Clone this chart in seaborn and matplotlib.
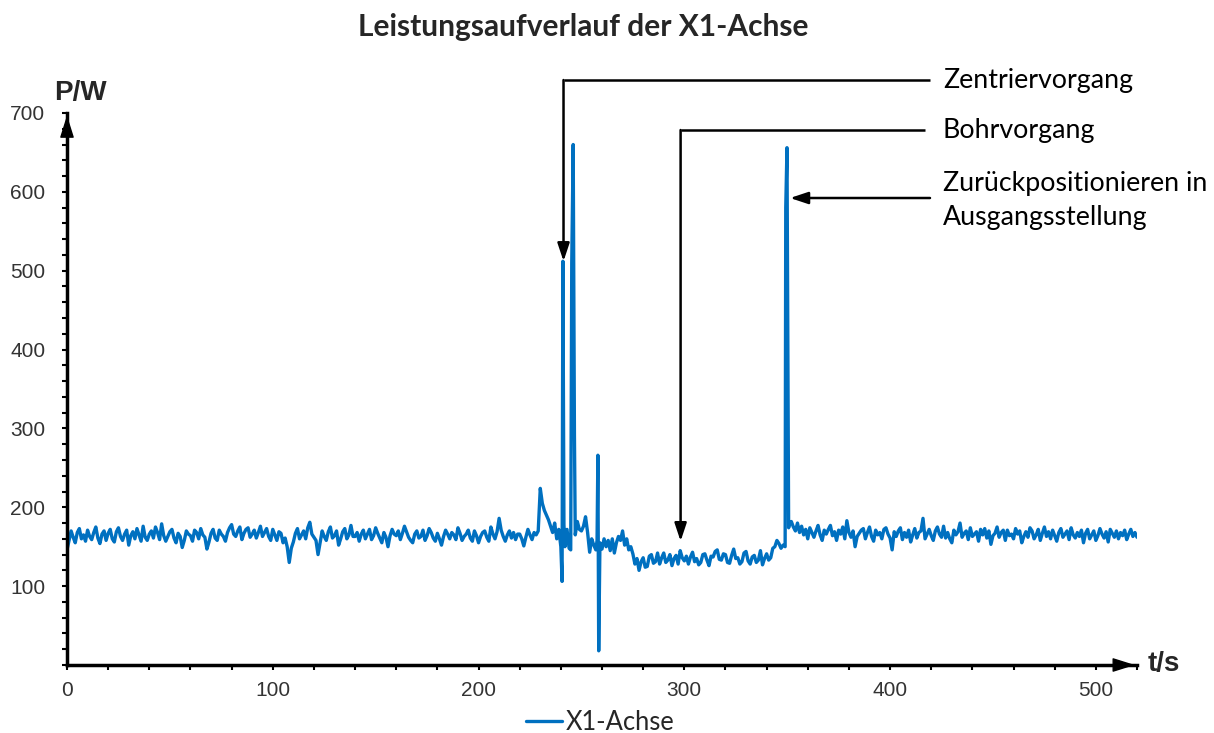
import numpy as np
import pandas as pd
import matplotlib
matplotlib.use("Agg")
import matplotlib.pyplot as plt
import seaborn as sns

# ---------------- data ----------------
title = "Leistungsaufverlauf der X1-Achse"
series_name = "X1-Achse"
x_label = "t/s"
y_label = "P/W"

# segment A: t = 0 .. 239 s (1 s step)
vals_a = [146, 158, 170, 162, 155, 168, 173, 160, 165, 157, 171, 163, 159, 168, 175, 161, 154, 166, 170, 158,
          167, 172, 160, 156, 169, 174, 163, 158, 166, 171, 152, 164, 169, 160, 173, 165, 157, 176, 162, 158,
          166, 170, 161, 175, 168, 159, 179, 164, 157, 163, 169, 172, 161, 155, 167, 163, 149, 158, 170, 166,
          164, 157, 171, 168, 160, 173, 165, 162, 147, 156, 167, 172, 161, 158, 171, 166, 163, 157, 168, 174,
          178, 166, 163, 170, 175, 159, 167, 172, 174, 162, 166, 171, 161, 168, 176, 163, 168, 173, 163, 158,
          172, 165, 158, 169, 167, 155, 161, 150, 130, 148, 156, 167, 173, 160, 165, 170, 160, 174, 181, 166,
          162, 158, 140, 155, 170, 163, 158, 169, 175, 161, 164, 170, 152, 160, 169, 173, 160, 165, 177, 163,
          163, 168, 157, 166, 171, 160, 166, 172, 159, 164, 174, 167, 161, 155, 168, 162, 150, 164, 172, 166,
          164, 170, 159, 167, 176, 169, 162, 158, 155, 166, 170, 161, 163, 171, 158, 164, 173, 168, 161, 157,
          167, 160, 152, 163, 171, 166, 160, 168, 165, 159, 174, 167, 158, 163, 166, 171, 161, 157, 170, 164,
          155, 163, 168, 170, 162, 157, 175, 166, 160, 169, 186, 171, 163, 157, 165, 170, 161, 168, 159, 166,
          166, 160, 151, 162, 172, 165, 159, 168, 165, 170, 224, 205, 196, 190, 184, 176, 168, 180, 160, 172]
# segment B: centring spikes (explicit times)
t_b = [240, 240.6, 241, 241.5, 242, 243, 244, 244.8, 245.3, 246,
       246.6, 247, 248, 249, 250, 251, 252, 253, 254, 255,
       256, 257, 257.6, 258, 258.4, 259, 260, 261]
vals_b = [150, 106, 512, 178, 150, 172, 148, 146, 510, 660,
          292, 165, 182, 172, 170, 176, 188, 168, 143, 160,
          152, 146, 158, 266, 18, 155, 147, 160]
# segment C: drilling, t = 262 .. 348 s (1 s step)
vals_c = [150, 158, 145, 160, 142, 155, 163, 158, 170, 152, 160, 146, 150, 141, 128, 135, 120, 131, 136, 124,
          125, 138, 140, 129, 131, 142, 128, 136, 142, 130, 133, 140, 126, 135, 139, 128, 145, 136, 132, 138,
          128, 137, 143, 131, 135, 127, 130, 140, 141, 133, 126, 138, 137, 144, 146, 134, 133, 141, 140, 130,
          129, 139, 147, 135, 136, 128, 131, 142, 144, 132, 128, 137, 139, 130, 133, 145, 127, 135, 141, 133,
          136, 148, 150, 158, 154, 148, 152]
# segment D: return spike
t_d = [349.0, 349.3, 349.9, 350.3, 350.7]
vals_d = [150, 580, 656, 406, 174]
# segment E: t = 351 .. 520 s (1 s step)
vals_e = [178, 182, 175, 170, 180, 168, 176, 165, 172, 160, 174, 168, 162, 170, 177, 165, 158, 171, 166, 172,
          177, 164, 169, 158, 171, 166, 175, 160, 183, 168, 162, 170, 150, 163, 167, 171, 173, 160, 168, 175,
          163, 157, 171, 165, 168, 160, 172, 174, 166, 161, 146, 169, 163, 170, 174, 159, 168, 162, 171, 156,
          165, 173, 161, 168, 170, 186, 160, 166, 172, 164, 158, 170, 175, 166, 162, 176, 161, 168, 160, 155,
          171, 165, 169, 180, 162, 167, 170, 159, 174, 163, 166, 169, 157, 172, 165, 173, 161, 170, 153, 164,
          167, 175, 162, 168, 171, 158, 171, 164, 166, 160, 173, 166, 170, 155, 163, 169, 162, 174, 170, 160,
          165, 172, 158, 167, 175, 163, 169, 160, 171, 164, 157, 168, 173, 162, 166, 170, 159, 174, 165, 161,
          168, 163, 171, 155, 167, 172, 160, 165, 170, 158, 164, 173, 166, 161, 169, 156, 172, 167, 162, 170,
          160, 168, 164, 171, 159, 166, 172, 163, 168, 162]

t_all = np.concatenate([np.arange(0, 240, 1), t_b, np.arange(262, 349, 1),
                        t_d, np.arange(351, 521, 1)])
p_all = np.concatenate([vals_a, vals_b, vals_c, vals_d, vals_e])
df = pd.DataFrame({"t": t_all, "P": p_all})

x_ticks = [0, 100, 200, 300, 400, 500]
y_ticks = [100, 200, 300, 400, 500, 600, 700]

# ---------------- style ----------------
sns.set_theme(style="white")
plt.rcParams["font.family"] = ["Liberation Sans", "DejaVu Sans"]

W, H = 1214, 733
fig = plt.figure(figsize=(W / 100, H / 100), dpi=100)
ax = fig.add_axes([67 / W, 1 - 665 / H, (1137 - 67) / W, (665 - 113) / H])

line_color = "#0070C0"
sns.lineplot(data=df, x="t", y="P", ax=ax, color=line_color, lw=2.4,
             estimator=None, sort=False, label=series_name)

ax.set_xlim(0, 520)
ax.set_ylim(0, 700)
ax.set_xticks(x_ticks)
ax.set_yticks(y_ticks)
ax.set_xticks(np.arange(0, 521, 20), minor=True)
ax.set_yticks(np.arange(0, 701, 20), minor=True)
ax.set_xlabel("")
ax.set_ylabel("")

for s in ["top", "right"]:
    ax.spines[s].set_visible(False)
for s in ["left", "bottom"]:
    ax.spines[s].set_color("black")
    ax.spines[s].set_linewidth(2.5)

tick_col = "#333333"
ax.tick_params(axis="both", which="both", direction="out", color="black",
               width=1.5, length=3.5, bottom=True, left=True)
ax.tick_params(axis="x", which="major", labelsize=15, labelcolor=tick_col, pad=8)
ax.tick_params(axis="y", which="major", labelsize=15, labelcolor=tick_col, pad=12)
ax.grid(False)

# axis arrowheads (head only, short shaft hidden under spine)
arrow_kw = dict(arrowstyle="-|>,head_length=0.7,head_width=0.22", color="black",
                lw=1.0, mutation_scale=20, shrinkA=0, shrinkB=0)
ax.annotate("", xy=(0, 697), xytext=(0, 670), xycoords="data",
            arrowprops=arrow_kw, annotation_clip=False)
ax.annotate("", xy=(519, 0), xytext=(505, 0), xycoords="data",
            arrowprops=arrow_kw, annotation_clip=False)

# axis labels
fig.text(80 / W, 1 - 93 / H, y_label, ha="center", va="center",
         fontsize=20, fontweight="bold", family=["Liberation Sans"])
fig.text(1164 / W, 1 - 664 / H, x_label, ha="center", va="center",
         fontsize=20, fontweight="bold", family=["Liberation Sans"])

# title
fig.text(583 / W, 1 - 27 / H, title, ha="center", va="center",
         fontsize=21.5, fontweight="bold", family=["Lato", "DejaVu Sans"])

# annotations
ann_font = dict(fontsize=19.3, family=["Lato", "DejaVu Sans"], color="black",
                va="center", ha="left", clip_on=False)
small_arrow = dict(arrowstyle="-|>,head_length=0.6,head_width=0.2", color="black",
                   lw=1.8, mutation_scale=18, shrinkA=0, shrinkB=0)
lkw = dict(color="black", lw=1.8, clip_on=False, solid_capstyle="butt")

# Zentriervorgang
ax.plot([241.3, 419.4], [741.8, 741.8], **lkw)
ax.annotate("", xy=(241.3, 512), xytext=(241.3, 741.8), arrowprops=small_arrow,
            annotation_clip=False)
ax.text(425.7, 741.8, "Zentriervorgang", **ann_font)

# Bohrvorgang
ax.plot([298.2, 417.0], [678.4, 678.4], **lkw)
ax.annotate("", xy=(298.2, 157), xytext=(298.2, 678.4), arrowprops=small_arrow,
            annotation_clip=False)
ax.text(425.7, 678.4, "Bohrvorgang", **ann_font)

# Zurückpositionieren
ax.annotate("", xy=(351.4, 592.2), xytext=(419.4, 592.2), arrowprops=small_arrow,
            annotation_clip=False)
ax.text(425.7, 611.2, "Zurückpositionieren in", **ann_font)
ax.text(425.7, 568.1, "Ausgangsstellung", **ann_font)

# legend
handles, labels = ax.get_legend_handles_labels()
ax.get_legend().remove()
fig.legend(handles, labels, loc="center", bbox_to_anchor=(600 / W, 1 - 722 / H),
           frameon=False, prop={"family": "Lato", "size": 18.4},
           handlelength=1.4, handletextpad=0.15, borderaxespad=0)

fig.savefig("out.png", dpi=100)
